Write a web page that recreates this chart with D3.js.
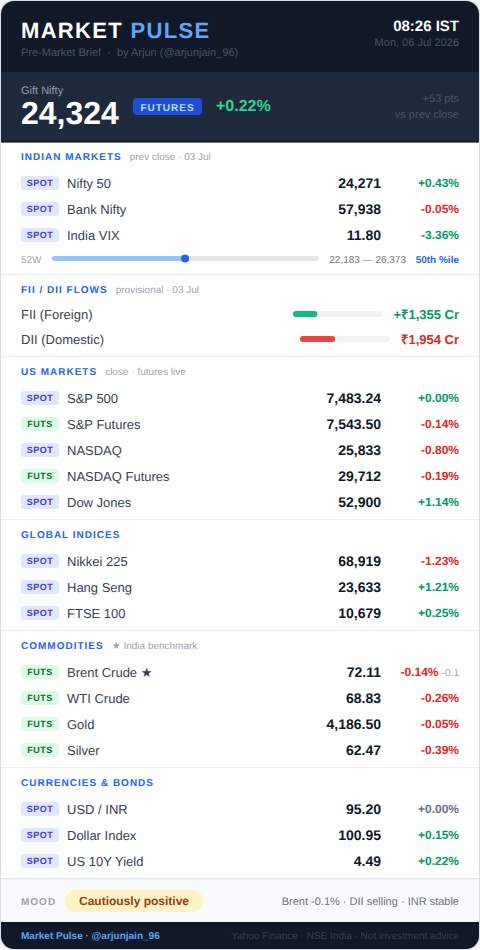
<!DOCTYPE html>
<html><head><meta charset="utf-8">
<script src="https://cdn.jsdelivr.net/npm/d3@7/dist/d3.min.js"></script>
<style>html,body{margin:0;padding:0;background:#f0f2f7}svg{display:block;font-family:"Liberation Sans",Arial,sans-serif;text-rendering:geometricPrecision}</style>
</head><body><svg id="c" width="480" height="950"></svg>
<script>
const indianNames=["Nifty 50","Bank Nifty","India VIX"];
const indianValues=["24,271","57,938","11.80"];
const indianPct=["+0.43%","-0.05%","-3.36%"];
const indianTags=["SPOT","SPOT","SPOT"];
const usNames=["S&P 500","S&P Futures","NASDAQ","NASDAQ Futures","Dow Jones"];
const usValues=["7,483.24","7,543.50","25,833","29,712","52,900"];
const usPct=["+0.00%","-0.14%","-0.80%","-0.19%","+1.14%"];
const usTags=["SPOT","FUTS","SPOT","FUTS","SPOT"];
const globalNames=["Nikkei 225","Hang Seng","FTSE 100"];
const globalValues=["68,919","23,633","10,679"];
const globalPct=["-1.23%","+1.21%","+0.25%"];
const globalTags=["SPOT","SPOT","SPOT"];
const commodityNames=["Brent Crude ★","WTI Crude","Gold","Silver"];
const commodityValues=["72.11","68.83","4,186.50","62.47"];
const commodityPct=["-0.14%","-0.26%","-0.05%","-0.39%"];
const commodityTags=["FUTS","FUTS","FUTS","FUTS"];
const currencyNames=["USD / INR","Dollar Index","US 10Y Yield"];
const currencyValues=["95.20","100.95","4.49"];
const currencyPct=["+0.00%","+0.15%","+0.22%"];
const currencyTags=["SPOT","SPOT","SPOT"];
const flowNames=["FII (Foreign)","DII (Domestic)"];
const flowValues=[1355,-1954];
const flowLabels=["+₹1,355 Cr","₹1,954 Cr"];
const range52w=[22183,26373];
const nifty=24271;

const svg=d3.select("#c");
function T(t,x,y,size,fill,o={}){
  return svg.append("text").attr("x",x).attr("y",y).attr("font-size",size).attr("fill",fill)
   .attr("font-weight",o.w||400).attr("text-anchor",o.a||"start")
   .attr("letter-spacing",o.ls||null).text(t);
}
function R(x,y,w,h,fill,r=0){return svg.append("rect").attr("x",x).attr("y",y).attr("width",w).attr("height",h).attr("fill",fill).attr("rx",r);}

const defs=svg.append("defs");
defs.append("clipPath").attr("id","card").append("rect").attr("x",1).attr("y",1).attr("width",478).attr("height",948).attr("rx",13);
R(0,0,480,950,"#f0f2f7");
R(0,0,480,950,"#d8dce8",14);
R(1,1,478,948,"#ffffff",13);
const bands=svg.append("g").attr("clip-path","url(#card)");
const B=(x,y,w,h,f)=>bands.append("rect").attr("x",x).attr("y",y).attr("width",w).attr("height",h).attr("fill",f);
B(1,1,478,71,"#111827");
B(1,72,478,69,"#1e293b");
B(1,141,478,1.6,"#0f172a");
B(1,878,478,44,"#f8fafc");
B(1,878,478,1.5,"#e2e8f0");
B(1,922,478,28,"#111827");

const title=T("MARKET ",21,37.5,22,"#ffffff",{w:700,ls:"1.32px"});
title.append("tspan").attr("fill","#60a5fa").text("PULSE");
T("Pre-Market Brief  ·  by Arjun (@arjunjain_96)",21,56,11,"#4b5563").attr("xml:space","preserve");
T("08:26 IST",459,31,15,"#ffffff",{w:700,a:"end"});
T("Mon, 06 Jul 2026",459,46,11,"#4b5563",{a:"end"});
T("Gift Nifty",21,94,11,"#94a3b8");
T("24,324",21,124,32,"#ffffff",{w:700});
R(133,98,69,17,"#1d4ed8",4);
T("FUTURES",167.5,110.5,10,"#bfdbfe",{w:700,a:"middle",ls:"1px"});
T("+0.22%",216,111,16,"#34d399",{w:700});
T("+53 pts",459,102,11,"#475569",{a:"end"});
T("vs prev close",459,118,11,"#475569",{a:"end"});

function head(t,sub,y){
  const h=T(t,21,y+3.5,10,"#2563eb",{w:700,ls:"1px"});
  if(sub){const w=h.node().getComputedTextLength();T(sub,21+w+8,y+3.5,10,"#9ca3af");}
}
function sep(y){R(1,y,478,1,"#e9edf3");}
const tagStyle={SPOT:["#e0e7ff","#4338ca"],FUTS:["#dcfce7","#166534"]};
function rows(names,values,pct,tags,y0,step=26){
  const y=d3.scaleLinear().domain([0,1]).range([y0,y0+step]);
  names.forEach((n,i)=>{
    const cy=y(i),st=tagStyle[tags[i]];
    R(21,cy-7,38,14,st[0],3);
    T(tags[i],40,cy+3,9,st[1],{w:700,a:"middle",ls:"0.5px"});
    T(n,67,cy+5,13,"#374151");
    T(values[i],381,cy+5,14,"#111827",{w:700,a:"end"});
    const c=pct[i]==="+0.00%"&&names===currencyNames?"#6b7280":(pct[i][0]==="-"&&names[i]!=="India VIX"?"#dc2626":"#059669");
    if(names[i].startsWith("Brent")){
      T(pct[i],438.5,cy+4,12,c,{w:700,a:"end"});
      T("-0.1",459,cy+4,10,"#9ca3af",{a:"end"});
    } else T(pct[i],459,cy+4,12,c,{w:700,a:"end"});
  });
}

head("INDIAN MARKETS","prev close · 03 Jul",156);
rows(indianNames,indianValues,indianPct,indianTags,183);
T("52W",21,262.5,10,"#9ca3af");
const sx=d3.scaleLinear().domain(range52w).range([52,319]);
R(sx.range()[0],256,sx.range()[1]-sx.range()[0],5,"#e5e7eb",2.5);
R(sx.range()[0],256,sx(nifty)-sx.range()[0],5,"#93c5fd",2.5);
svg.append("circle").attr("cx",sx(nifty)).attr("cy",258.5).attr("r",4).attr("fill","#2563eb");
T(d3.format(",")(range52w[0])+" — "+d3.format(",")(range52w[1]),406,262.5,10,"#6b7280",{a:"end"});
T("50th %ile",459,262.5,10,"#2563eb",{w:700,a:"end"});
sep(274);

head("FII / DII FLOWS","provisional · 03 Jul",289);
const fx=d3.scaleLinear().domain([0,5000]).range([0,90]);
const flowRight=[383,390],flowY=[314,339],flowCol=["#10b981","#ef4444"],flowText=["#059669","#dc2626"];
flowNames.forEach((n,i)=>{
  T(n,21,flowY[i]+5,13,"#374151");
  const left=flowRight[i]-90;
  R(left,flowY[i]-3,90,6,"#f3f4f6",3);
  R(left,flowY[i]-3,fx(Math.abs(flowValues[i])),6,flowCol[i],3);
  T(flowLabels[i],459,flowY[i]+4.5,13,flowText[i],{w:700,a:"end"});
});
sep(356);

head("US MARKETS","close · futures live",371);
rows(usNames,usValues,usPct,usTags,398);
sep(519);
head("GLOBAL INDICES",null,534);
rows(globalNames,globalValues,globalPct,globalTags,561);
sep(630);
head("COMMODITIES","★ India benchmark",645);
rows(commodityNames,commodityValues,commodityPct,commodityTags,672);
sep(767);
head("CURRENCIES & BONDS",null,782);
rows(currencyNames,currencyValues,currencyPct,currencyTags,809);

T("MOOD",21,905,10,"#9ca3af",{w:700,ls:"1px"});
R(65,890,138,22,"#fef3c7",11);
T("Cautiously positive",134,905,12,"#92400e",{w:700,a:"middle"});
T("Brent -0.1% · DII selling · INR stable",459,905,11,"#6b7280",{a:"end"});
T("Market Pulse · @arjunjain_96",21,939,10,"#60a5fa",{w:700});
T("Yahoo Finance · NSE India · Not investment advice",459,939,10,"#374151",{a:"end"});
</script></body></html>
